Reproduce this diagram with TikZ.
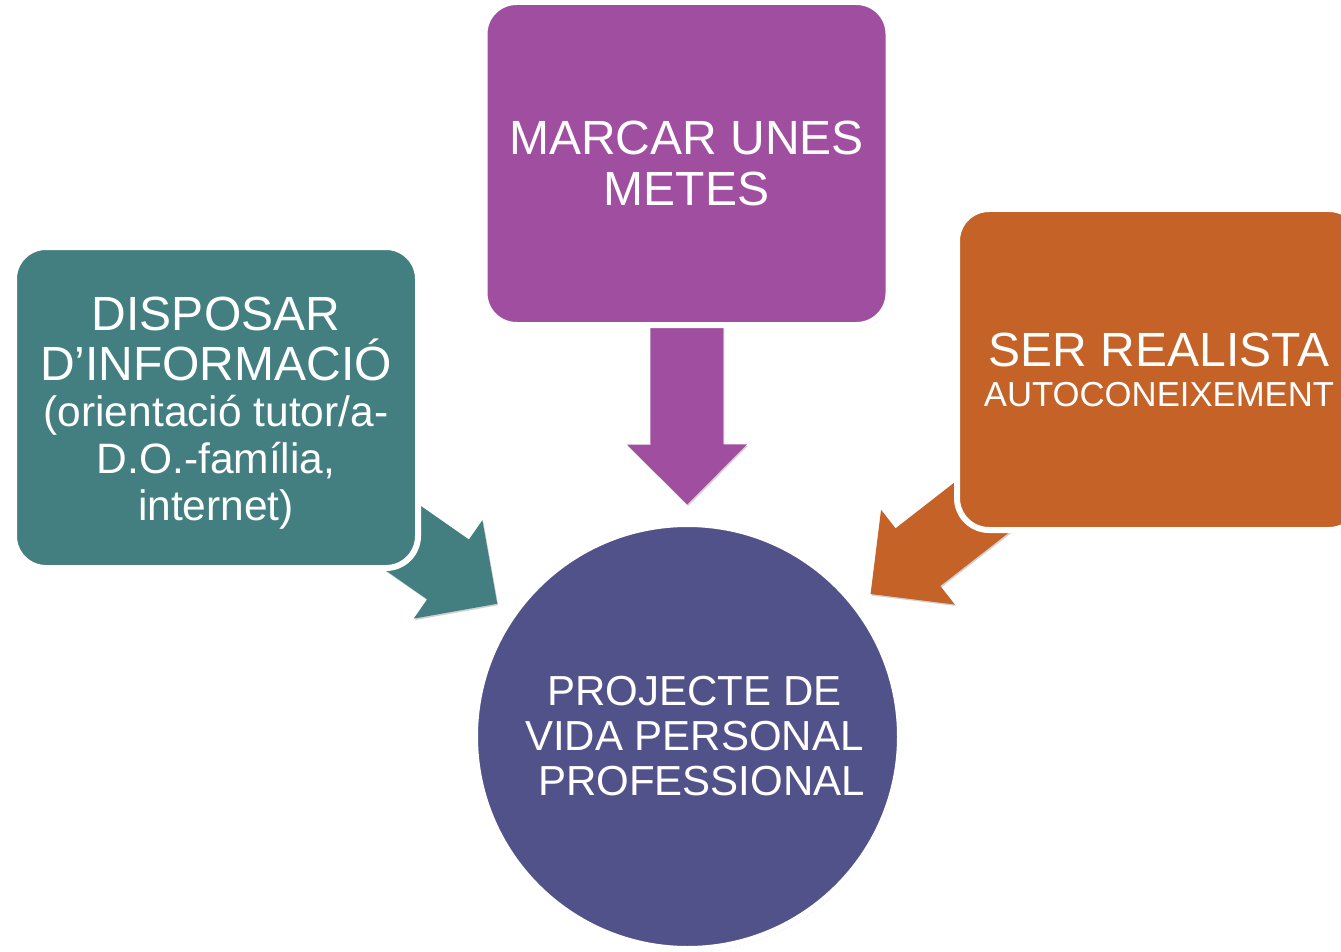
\documentclass[tikz,border=0pt]{standalone}
\usepackage{fontspec}
\setmainfont{Liberation Sans}
\usetikzlibrary{calc,shadows}
\pgfdeclarelayer{back}
\pgfsetlayers{back,main}
\definecolor{cteal}{HTML}{437F80}
\definecolor{cpurple}{HTML}{A04FA0}
\definecolor{corange}{HTML}{C46228}
\definecolor{cnavy}{HTML}{52528A}
\tikzset{
  softshadow/.style={drop shadow={opacity=0.25, shadow xshift=1.5pt, shadow yshift=-2.5pt, fill=black}},
  card/.style={rectangle, rounded corners=32pt, draw=white, line width=6pt,
    minimum width=404pt, minimum height=321pt, text=white, align=center,
    inner sep=0pt, softshadow},
  hub/.style={circle, draw=white, line width=6pt, minimum size=425pt,
    fill=cnavy, text=white, align=center, inner sep=0pt, softshadow},
  blk/.style={drop shadow={opacity=0.18, shadow xshift=1pt, shadow yshift=-1.5pt, fill=black}},
}
\newcommand\blkarrow[3]{%
  \coordinate (#1-tip) at ($(#2.center)!232pt!(#1.center)$);
  \coordinate (#1-hb) at ($(#1-tip)!60pt!(#1.center)$);
  \fill[#3, blk] ($(#1.center)!36.5pt!90:(#1-tip)$) -- ($(#1-hb)!36.5pt!90:(#1-tip)$)
    -- ($(#1-hb)!60pt!90:(#1-tip)$) -- (#1-tip) -- ($(#1-hb)!60pt!-90:(#1-tip)$)
    -- ($(#1-hb)!36.5pt!-90:(#1-tip)$) -- ($(#1.center)!36.5pt!-90:(#1-tip)$) -- cycle;
}
\begin{document}
\begin{tikzpicture}[x=1pt,y=-1pt]
\useasboundingbox (0,0) rectangle (1341,952);
\clip (0,0) rectangle (1341,952);

\node[card, fill=cpurple, minimum height=323pt, font=\fontsize{48}{47}\selectfont]
  (metes) at (686.5,163.5) {MARCAR UNES\\[4pt]METES};

\node[card, fill=cteal, font=\fontsize{48}{47}\selectfont]
  (info) at (216,407.5) {\rule{0pt}{45pt}DISPOSAR\\[3pt]
  D’INFORMACIÓ\\[-1pt]
  \fontsize{42.5}{47}\selectfont (orientació tutor/a-\\
  \fontsize{42.5}{47}\selectfont D.O.-família,\\
  \fontsize{42.5}{47}\selectfont internet)};

\node[card, fill=corange, font=\fontsize{48}{47}\selectfont]
  (realista) at (1159,369.5) {SER REALISTA\\[-7pt]
  \fontsize{34.7}{40}\selectfont AUTOCONEIXEMENT};

\node[hub, font=\fontsize{42}{42}\selectfont] (projecte) at (687.5,736.5)
  {\hspace*{14pt}PROJECTE DE\\[3pt]\hspace*{14pt}VIDA PERSONAL\\[3pt]\hspace*{28pt}PROFESSIONAL};

\begin{pgfonlayer}{back}
  \fill[white] (0,0) rectangle (1341,952);
  \blkarrow{info}{projecte}{cteal}
  \blkarrow{metes}{projecte}{cpurple}
  \blkarrow{realista}{projecte}{corange}
\end{pgfonlayer}
\end{tikzpicture}
\end{document}
